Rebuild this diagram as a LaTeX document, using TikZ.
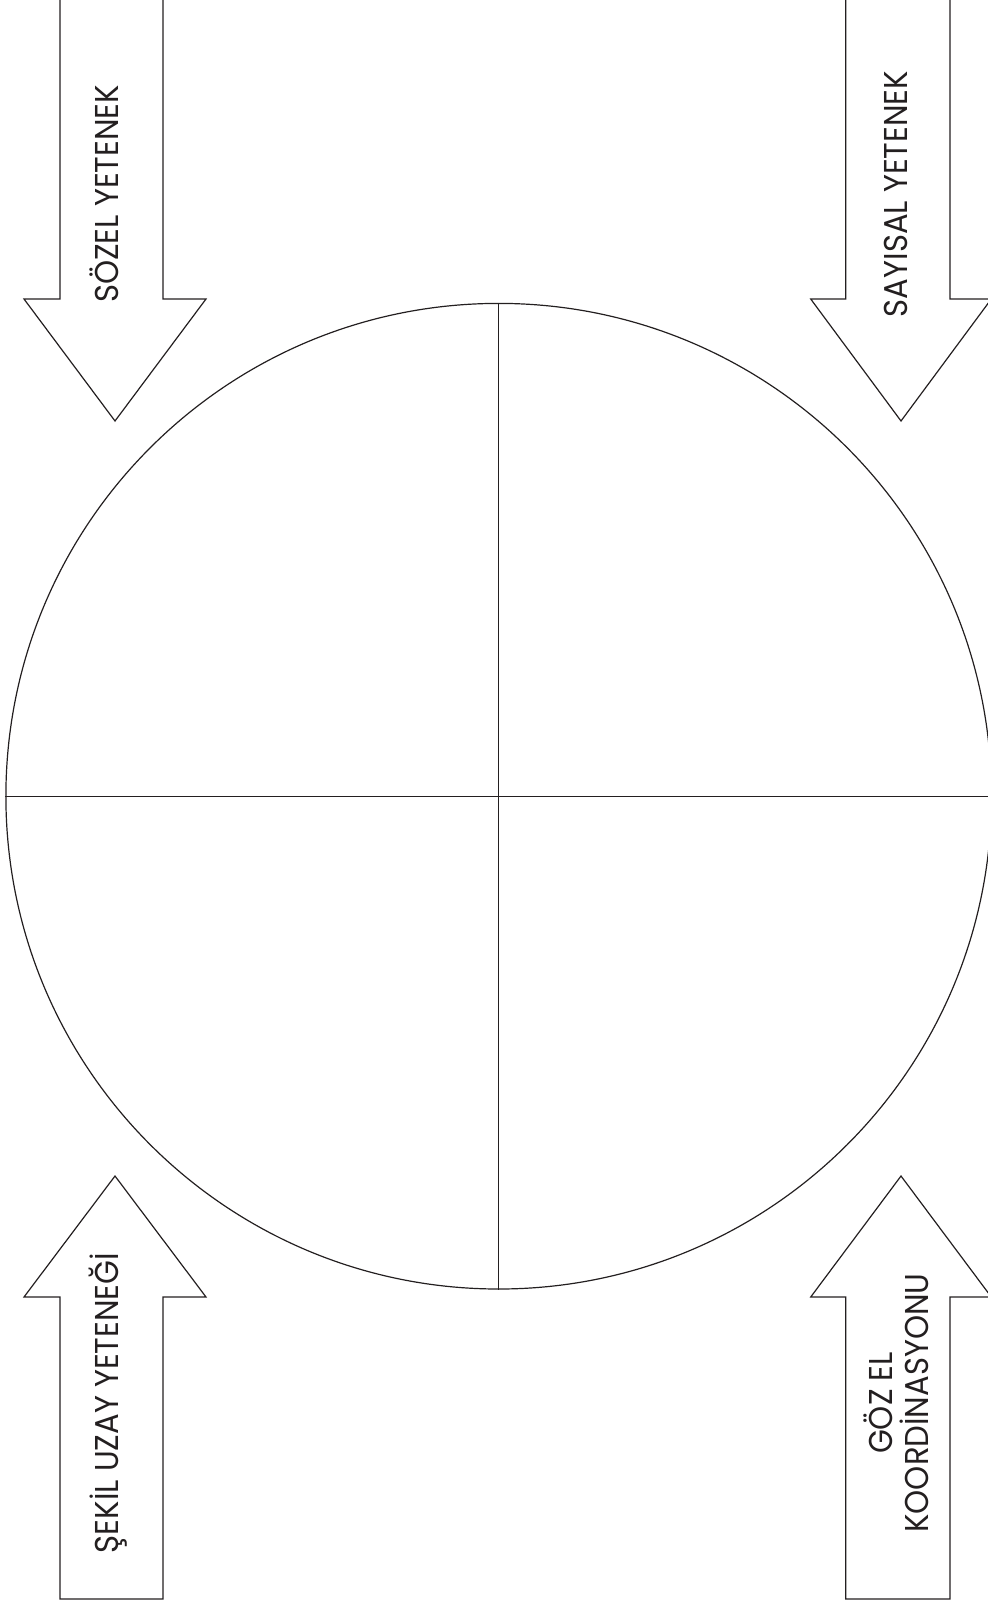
\documentclass[tikz,border=0pt]{standalone}
\usepackage{fontspec}
\setmainfont{Poppins}[FakeStretch=0.93]
\definecolor{ink}{HTML}{231F20}
\tikzset{
  outline/.style={draw=ink, line width=0.6pt, line join=miter},
  lbl/.style={rotate=90, anchor=base, text=ink, inner sep=0pt,
    font=\fontsize{16.5}{18}\selectfont},
}
\begin{document}
\begin{tikzpicture}[x=0.5pt, y=-0.5pt]
\useasboundingbox (0,0) rectangle (988,1605);
\clip (0,0) rectangle (988,1605);
% circle
\node[circle, outline, minimum size=492.8pt, inner sep=0pt] (c) at (498.7,796.2) {};
\draw[outline] (c.north) -- (c.south);
\draw[outline] (c.west) -- (c.east);
% arrows
\draw[outline] (60,-5) -- (60,299) -- (24,299) -- (115,421) -- (206,299) -- (163,299) -- (163,-5);
\draw[outline] (845.7,-5) -- (845.7,299) -- (810.7,299) -- (901,421) -- (991.3,299) -- (950,299) -- (950,-5);
\draw[outline] (60,1599) -- (60,1297) -- (24,1297) -- (115,1176) -- (206,1297) -- (163,1297) -- (163,1599) -- cycle;
\draw[outline] (845.7,1599) -- (845.7,1297) -- (810.7,1297) -- (901,1176) -- (991.3,1297) -- (950,1297) -- (950,1599) -- cycle;
% labels
\node[lbl] (t1) at (118,194) {SÖZEL YETENEK};
\node[lbl] (t2) at (907,194) {SAYISAL YETENEK};
\node[lbl] (t3) at (118,1403) {ŞEKİL UZAY YETENEĞİ};
\node[lbl, align=center] (t4) at (928,1403) {GÖZ EL\\KOORDİNASYONU};
\end{tikzpicture}
\end{document}
